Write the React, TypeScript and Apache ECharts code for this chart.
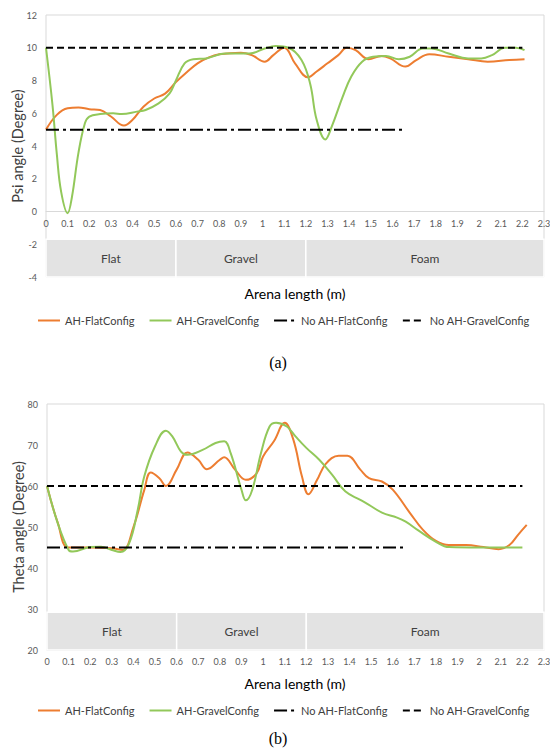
import React, { useEffect, useRef } from "react";
import * as echarts from "echarts";

// ---- Data ----
const seriesNames = ["AH-FlatConfig", "AH-GravelConfig", "No AH-FlatConfig", "No AH-GravelConfig"];

const flatPsi: [number, number][] = [
  [0, 5.0], [0.05, 5.9], [0.1, 6.3], [0.15, 6.35], [0.2, 6.25], [0.25, 6.2], [0.3, 5.8], [0.36, 5.25],
  [0.4, 5.6], [0.45, 6.4], [0.5, 6.9], [0.55, 7.2], [0.6, 7.9], [0.65, 8.5], [0.7, 9.05], [0.75, 9.4],
  [0.8, 9.6], [0.9, 9.7], [0.95, 9.55], [1.01, 9.15], [1.05, 9.55], [1.1, 10.0], [1.15, 9.05], [1.21, 8.2],
  [1.25, 8.55], [1.3, 9.05], [1.35, 9.55], [1.39, 10.0], [1.43, 9.85], [1.49, 9.3], [1.55, 9.5], [1.59, 9.35],
  [1.66, 8.85], [1.71, 9.25], [1.77, 9.6], [1.86, 9.45], [1.95, 9.3], [2.04, 9.15], [2.14, 9.25], [2.21, 9.3],
];
const gravelPsi: [number, number][] = [
  [0, 10], [0.03, 6.5], [0.05, 3.5], [0.07, 1.2], [0.1, -0.1], [0.12, 0.9], [0.15, 3.6], [0.18, 5.4],
  [0.2, 5.8], [0.25, 5.95], [0.31, 6.0], [0.35, 5.95], [0.42, 6.1], [0.46, 6.2], [0.52, 6.6], [0.57, 7.2],
  [0.6, 8.0], [0.64, 9.05], [0.68, 9.3], [0.74, 9.35], [0.83, 9.65], [0.94, 9.65], [1.01, 9.95], [1.06, 10.1],
  [1.12, 10.0], [1.18, 9.25], [1.22, 7.8], [1.25, 5.6], [1.29, 4.4], [1.32, 5.2], [1.37, 7.0], [1.41, 8.25],
  [1.46, 9.15], [1.51, 9.45], [1.57, 9.5], [1.63, 9.3], [1.68, 9.45], [1.74, 9.95], [1.78, 9.95], [1.86, 9.65],
  [1.95, 9.35], [2.01, 9.35], [2.06, 9.55], [2.12, 10.0], [2.17, 10.0], [2.21, 9.85],
];
const noFlatPsi: [number, number][] = [[0, 5], [1.65, 5]];
const noGravelPsi: [number, number][] = [[0, 10], [2.2, 10]];

const flatTheta: [number, number][] = [
  [0, 60], [0.05, 51], [0.1, 45], [0.2, 45], [0.3, 44.8], [0.35, 44.4], [0.4, 50], [0.45, 59], [0.48, 63.3],
  [0.52, 61.9], [0.55, 60], [0.6, 64], [0.65, 68.2], [0.7, 66.4], [0.74, 64.1], [0.8, 66.4], [0.82, 67],
  [0.87, 64], [0.92, 61.5], [0.97, 63.1], [1.0, 67.2], [1.05, 70.9], [1.1, 75.4], [1.14, 71.3], [1.18, 62.3],
  [1.21, 58], [1.25, 61.5], [1.29, 65.4], [1.35, 67.4], [1.39, 67.4], [1.45, 64], [1.49, 61.9], [1.55, 61.1],
  [1.6, 59.1], [1.68, 53.4], [1.74, 49.3], [1.8, 46.6], [1.86, 45.6], [1.94, 45.6], [2.02, 45.1], [2.09, 44.6],
  [2.14, 45.6], [2.18, 48.1], [2.22, 50.5],
];
const gravelTheta: [number, number][] = [
  [0, 60], [0.05, 50.9], [0.1, 44.4], [0.12, 44], [0.2, 45.1], [0.25, 45.2], [0.3, 44.4], [0.34, 43.9],
  [0.38, 46], [0.42, 54.2], [0.45, 62.3], [0.5, 69.7], [0.55, 73.5], [0.58, 72.1], [0.62, 68.4], [0.65, 67.6],
  [0.72, 68.8], [0.78, 70.5], [0.82, 70.9], [0.85, 68], [0.9, 59.1], [0.92, 56.5], [0.95, 59.1], [0.99, 68],
  [1.03, 74.5], [1.06, 75.4], [1.11, 74.5], [1.15, 72.1], [1.2, 69.3], [1.26, 66.4], [1.32, 62.7], [1.38, 58.7],
  [1.45, 56.6], [1.49, 55.4], [1.55, 53.5], [1.62, 52.3], [1.66, 51.3], [1.72, 49.1], [1.8, 46.4], [1.86, 45.1],
  [2.0, 45], [2.1, 45], [2.2, 45],
];
const noFlatTheta: [number, number][] = [[0, 45], [1.65, 45]];
const noGravelTheta: [number, number][] = [[0, 60], [2.2, 60]];

const zoneNames = ["Flat", "Gravel", "Foam"];
const zoneBounds: [number, number][] = [[0, 0.6], [0.6, 1.2], [1.2, 2.3]];
const psiZoneRange: [number, number] = [-1.7, -4];
const thetaZoneRange: [number, number] = [29.2, 20];

const FONT = "Lato, 'Open Sans', sans-serif";
const ORANGE = "#ED7D31";
const GREEN = "#92C85A";
const TXT = "#404040";

function zoneSeries(axisIndex: number, range: [number, number]) {
  return {
    type: "line",
    xAxisIndex: axisIndex,
    yAxisIndex: axisIndex,
    data: [],
    silent: true,
    z: 1,
    markArea: {
      silent: true,
      itemStyle: { color: "#E3E3E3", borderColor: "#ffffff", borderWidth: 1.5 },
      label: { show: true, position: "inside", color: TXT, fontSize: 12, fontFamily: FONT },
      data: zoneNames.map((n, i) => [
        { name: n, coord: [zoneBounds[i][0], range[0]] },
        { coord: [zoneBounds[i][1], range[1]] },
      ]),
    },
  };
}

function lineSeries(axisIndex: number, flat: any, gravel: any, noFlat: any, noGravel: any) {
  return [
    {
      name: seriesNames[0], type: "line", xAxisIndex: axisIndex, yAxisIndex: axisIndex, data: flat,
      smooth: 0.4, symbol: "none", lineStyle: { color: ORANGE, width: 2 }, itemStyle: { color: ORANGE }, z: 3,
    },
    {
      name: seriesNames[1], type: "line", xAxisIndex: axisIndex, yAxisIndex: axisIndex, data: gravel,
      smooth: 0.4, symbol: "none", lineStyle: { color: GREEN, width: 2 }, itemStyle: { color: GREEN }, z: 4,
    },
    {
      name: seriesNames[2], type: "line", xAxisIndex: axisIndex, yAxisIndex: axisIndex, data: noFlat,
      symbol: "none", lineStyle: { color: "#000", width: 2, type: [13, 4, 3, 4] }, itemStyle: { color: "#000" }, z: 5,
    },
    {
      name: seriesNames[3], type: "line", xAxisIndex: axisIndex, yAxisIndex: axisIndex, data: noGravel,
      symbol: "none", lineStyle: { color: "#000", width: 2, type: [7, 4] }, itemStyle: { color: "#000" }, z: 5,
    },
  ];
}

function xAxisCfg(gridIndex: number, offset: number) {
  return {
    type: "value", gridIndex, min: 0, max: 2.3, interval: 0.1, position: "bottom", offset,
    axisLine: { show: true, onZero: false, lineStyle: { color: "#D9D9D9", width: 1 } },
    axisTick: { show: false },
    splitLine: { show: false },
    axisLabel: {
      color: "#595959", fontSize: 9, fontFamily: FONT, margin: 7,
      formatter: (v: number) => String(Math.round(v * 10) / 10),
    },
  };
}

function yAxisCfg(gridIndex: number, min: number, max: number, interval: number, name: string) {
  return {
    type: "value", gridIndex, min, max, interval,
    name, nameLocation: "middle", nameGap: 21, nameRotate: 90, nameMoveOverlap: false,
    nameTextStyle: { color: TXT, fontSize: 14.5, fontFamily: FONT },
    axisLine: { show: false, onZero: false },
    axisTick: { show: false },
    splitLine: { show: false },
    axisLabel: { color: "#595959", fontSize: 9, fontFamily: FONT, margin: 9 },
  };
}

function legendCfg(top: number) {
  return {
    data: seriesNames, left: 37, top, itemWidth: 22, itemHeight: 10, itemGap: 14, padding: 0,
    selectedMode: false,
    itemStyle: { opacity: 0, borderWidth: 0 },
    textStyle: { color: TXT, fontSize: 11, fontFamily: FONT },
  };
}

export default function App() {
  const ref = useRef<HTMLDivElement>(null);
  useEffect(() => {
    if (!ref.current) return;
    const chart = echarts.init(ref.current, undefined, { renderer: "svg" });
    chart.setOption({
      animation: false,
      backgroundColor: "#ffffff",
      grid: [
        { left: 46, top: 15, width: 498, height: 262, show: true, borderColor: "#D9D9D9", borderWidth: 1, backgroundColor: "transparent", containLabel: false, outerBoundsMode: "none" },
        { left: 47, top: 404, width: 497, height: 246, show: true, borderColor: "#D9D9D9", borderWidth: 1, backgroundColor: "transparent", containLabel: false, outerBoundsMode: "none" },
      ],
      xAxis: [xAxisCfg(0, -65.5), xAxisCfg(1, 0)],
      yAxis: [
        yAxisCfg(0, -4, 12, 2, "Psi angle (Degree)"),
        yAxisCfg(1, 20, 80, 10, "Theta angle (Degree)"),
      ],
      legend: [legendCfg(315), legendCfg(705)],
      graphic: [
        { type: "text", x: 295, y: 293, style: { text: "Arena length (m)", align: "center", verticalAlign: "middle", fontSize: 14, fontFamily: FONT, fill: "#000" } },
        { type: "text", x: 278, y: 362, style: { text: "(a)", align: "center", verticalAlign: "middle", fontSize: 16, fontFamily: "'Liberation Serif', serif", fill: "#000" } },
        { type: "text", x: 295, y: 683, style: { text: "Arena length (m)", align: "center", verticalAlign: "middle", fontSize: 14, fontFamily: FONT, fill: "#000" } },
        { type: "text", x: 278, y: 738, style: { text: "(b)", align: "center", verticalAlign: "middle", fontSize: 16, fontFamily: "'Liberation Serif', serif", fill: "#000" } },
      ],
      series: [
        zoneSeries(0, psiZoneRange),
        ...lineSeries(0, flatPsi, gravelPsi, noFlatPsi, noGravelPsi),
        zoneSeries(1, thetaZoneRange),
        ...lineSeries(1, flatTheta, gravelTheta, noFlatTheta, noGravelTheta),
      ],
    });
    return () => chart.dispose();
  }, []);
  return <div ref={ref} style={{ position: "absolute", left: 0, top: 0, width: 550, height: 749 }} />;
}
